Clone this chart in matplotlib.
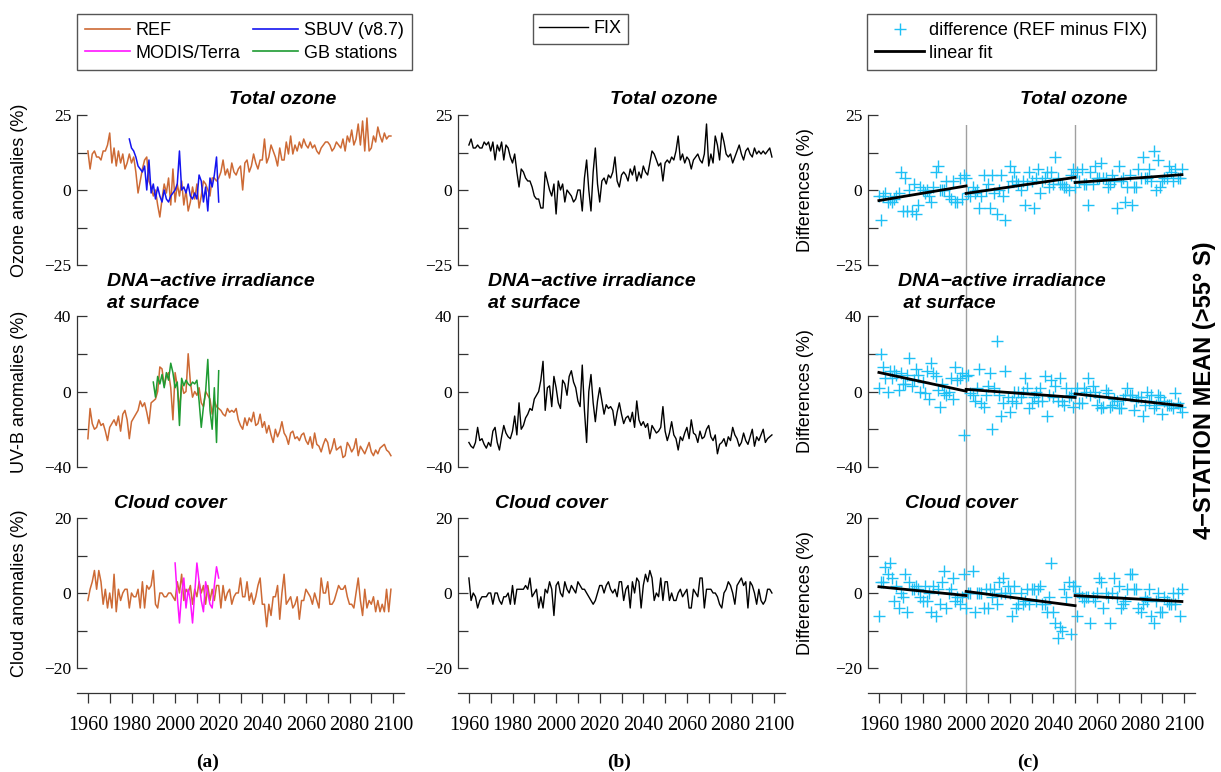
import numpy as np
import matplotlib
matplotlib.use("Agg")
import matplotlib.pyplot as plt
from matplotlib.ticker import MultipleLocator, FixedLocator
from matplotlib.lines import Line2D

# ---------------- data (annual values 1960-2099) ----------------
years = np.arange(1960, 2100)

ref_ozone = [13, 7, 12, 13, 11, 11, 10, 13, 13, 15,
             19, 9, 14, 8, 13, 9, 12, 7, 9, 12,
             9, 11, 6, -1, 3, 7, 10, 11, 3, 1,
             -2, 0, -5, -9, -3, 2, -1, 4, -5, 7,
             -4, 2, -2, 3, -5, 0, -7, -4, 1, -3,
             2, -6, -2, 3, 2, 0, -2, 4, 4, 3,
             4, 6, 10, 5, 7, 4, 9, 6, 5, 7,
             8, 0, 9, 10, 6, 8, 12, 9, 7, 10,
             10, 17, 9, 11, 15, 13, 11, 8, 14, 10,
             10, 16, 12, 18, 12, 15, 13, 16, 14, 17,
             15, 14, 16, 14, 15, 13, 12, 14, 15, 16,
             16, 15, 13, 14, 16, 15, 14, 17, 13, 18,
             16, 20, 15, 17, 22, 15, 23, 13, 24, 13,
             14, 18, 16, 21, 18, 16, 19, 17, 18, 18]

fix_ozone = [15, 17, 14, 14, 15, 14, 14, 16, 15, 16,
             13, 16, 10, 15, 13, 16, 10, 15, 14, 11,
             9, 12, 6, 1, 7, 6, 4, 3, 3, 1,
             -2, -3, -3, -6, -6, 6, 3, 0, -2, 2,
             -8, 3, 0, 2, -4, 0, -1, -2, -4, -3,
             0, 0, -7, 4, 10, 0, -7, 6, 14, 2,
             -4, 3, 4, 2, 5, 4, 6, 11, 3, 1,
             5, 6, 5, 3, 7, 5, 8, 3, 6, 4,
             8, 6, 5, 9, 13, 12, 10, 8, 9, 3,
             9, 10, 9, 11, 10, 13, 18, 10, 12, 9,
             11, 10, 7, 10, 11, 12, 10, 9, 12, 22,
             8, 12, 9, 18, 15, 10, 19, 16, 12, 11,
             12, 9, 11, 13, 15, 12, 10, 13, 14, 12,
             11, 14, 12, 13, 12, 13, 12, 13, 14, 11]

ref_uvb = [-25, -9, -17, -20, -19, -15, -18, -17, -21, -26,
           -19, -17, -15, -18, -13, -21, -12, -10, -15, -25,
           -16, -14, -12, -10, -5, -8, -6, -11, -17, -6,
           -5, -4, 0, 13, 12, 3, 8, 10, 2, -15,
           10, 3, -10, 4, -1, 0, 20, 5, -3, 0,
           -2, 2, -6, -8, 0, -2, -4, -12, -5, -8,
           -9, -10, -12, -13, -9, -11, -10, -11, -9, -15,
           -18, -20, -14, -18, -14, -16, -11, -18, -17, -12,
           -19, -16, -22, -18, -23, -27, -20, -24, -21, -16,
           -22, -24, -28, -22, -21, -25, -24, -26, -23, -22,
           -26, -28, -24, -30, -22, -28, -29, -32, -28, -25,
           -27, -33, -30, -25, -31, -30, -29, -35, -34, -27,
           -29, -32, -30, -25, -34, -29, -31, -33, -30, -27,
           -32, -34, -31, -33, -30, -29, -28, -31, -32, -34]

fix_uvb = [-27, -29, -30, -27, -19, -26, -25, -28, -30, -27,
           -29, -21, -19, -27, -31, -24, -18, -22, -24, -25,
           -21, -13, -23, -6, -20, -18, -14, -12, -9, -10,
           -4, -2, 0, 6, 16, -10, 2, 3, -8, 8,
           2, -6, -9, 6, 4, -2, 8, 11, 5, 2,
           -5, -8, 14, -10, -27, 0, 9, -6, -16, -5,
           2, -5, -12, -7, -9, -8, -10, -18, -11, -6,
           -12, -17, -14, -13, -16, -11, -19, -5, -15, -18,
           -16, -19, -17, -25, -18, -20, -22, -21, -19, -8,
           -21, -26, -22, -16, -23, -25, -31, -24, -26, -22,
           -19, -25, -15, -22, -23, -27, -21, -25, -24, -20,
           -18, -24, -26, -23, -33, -28, -27, -25, -29, -24,
           -26, -19, -23, -25, -29, -27, -22, -26, -28, -24,
           -20, -29, -24, -26, -23, -20, -27, -25, -24, -23]

ref_cloud = [-2, 1, 3, 6, 1, 6, 3, -3, 1, -4,
             0, -4, 5, -5, 1, -2, 0, 1, 1, -4,
             0, -1, -1, 1, -4, 3, -4, 2, 1, 2,
             6, -3, -4, 0, 0, -1, -1, 0, 0, -1,
             -2, 3, 0, 5, -2, 1, 0, 2, -3, 1,
             -1, 3, 0, 2, -3, 2, -2, 1, -2, 2,
             2, -4, 2, -2, 0, 1, -3, -1, 0, 0,
             4, -1, -1, 3, -2, 0, -3, -1, 2, 4,
             -3, -3, -9, -3, -6, -1, -1, 2, -7, 0,
             5, -3, -2, -1, -4, -3, -1, -7, -2, -2,
             1, 0, -1, -3, 0, -2, -4, 4, 0, 0,
             3, -3, -3, -2, 0, 2, 1, 1, 2, -1,
             -3, -3, -4, 0, 4, -2, -6, 1, -4, -2,
             -3, -1, -5, -2, -5, -3, -5, 1, -5, 1]

fix_cloud = [4, -2, 0, -1, -4, -2, -1, -1, -1, 0,
             0, -3, 0, 0, -2, -3, -1, -1, 0, -3,
             2, -3, 1, 1, 1, 1, 2, 1, 4, -1,
             0, 1, -4, -1, -4, 1, 0, 3, 1, -6,
             2, 3, 0, -1, 3, 1, 0, 2, 1, 0,
             3, 2, 1, 1, 0, -1, -2, -3, -2, 0,
             2, 2, 0, 2, 3, 1, 0, 1, -1, 3,
             3, -2, 1, 2, -4, 3, 0, 4, 3, -4,
             2, 5, 3, 6, 4, -2, 0, -1, 4, -2,
             3, 3, -2, 0, -2, -2, 0, 1, -1, 0,
             1, -4, -4, 1, 0, -1, 4, 4, -4, 1,
             1, 1, 0, 0, -1, -3, -4, 0, 1, 3,
             2, 0, -3, 2, 3, 4, 2, 3, -4, 3,
             2, 0, -3, 1, -2, -3, -2, 1, 1, 0]

sbuv_years = np.arange(1979, 2021)
sbuv_ozone = [17, 14, 13, 11, 8, 7, 6, 8, 0, 10,
              -1, 2, -3, 1, -2, -4, 0, -3, -4, -2,
              -1, 0, 2, 13, 0, 1, -1, 2, -2, -3,
              -1, -3, 5, 3, -4, 1, -7, 4, 1, 5,
              11, -4]

gb_years = np.arange(1990, 2021)
gb_uvb = [5, -3, 8, 4, 9, 2, 10, 6, 15, 10,
          2, 5, -18, 7, 3, 6, 4, 3, 5, 4,
          6, -5, -19, -8, 0, 17, -10, -20, 2, -27,
          11]

modis_years = np.arange(2000, 2021)
modis_cloud = [8, -1, -8, 0, 4, -4, 1, -2, -8, 0,
               8, 3, -2, -5, 3, 0, -3, -4, 2, 7,
               4]

ylabels = ["Ozone anomalies (%)", "UV-B anomalies (%)", "Cloud anomalies (%)"]
titles = ["Total ozone", "DNA\u2212active irradiance", "Cloud cover"]
ylims = [(-25, 25), (-40, 40), (-20, 20)]
breaks = [1960, 2000, 2050, 2100]

# ---------------- styling ----------------
C_REF = "#CD6A35"
C_SBUV = "#1414F0"
C_MODIS = "#FF14FF"
C_GB = "#1E9B32"
C_DIFF = "#1EC0F5"
C_SPINE = "#333333"
SANS = "Liberation Sans"
SERIF = "Liberation Serif"
plt.rcParams["font.family"] = SERIF

W, H = 1221, 772
fig = plt.figure(figsize=(W / 100, H / 100), dpi=100)


def fx(px):
    return px / W


def fy(py):
    return 1 - py / H


col_left = [77, 458, 868]
ax_w = 327
rows = [(115, 265), (316, 467), (518, 668)]
XLIM = (1955, 2105)

ref_series = [ref_ozone, ref_uvb, ref_cloud]
fix_series = [fix_ozone, fix_uvb, fix_cloud]

axes = {}
for c, L in enumerate(col_left):
    for r, (yt, yb) in enumerate(rows):
        ax = fig.add_axes([fx(L), fy(yb), ax_w / W, (yb - yt) / H])
        ax.set_facecolor("none")
        ax.set_zorder(2)
        ax.set_xlim(*XLIM)
        lo, hi = ylims[r]
        ax.set_ylim(lo, hi)
        for s in ("top", "right"):
            ax.spines[s].set_visible(False)
        ax.spines["left"].set_color(C_SPINE)
        ax.spines["left"].set_linewidth(0.9)
        ax.yaxis.set_major_locator(FixedLocator([lo, 0, hi]))
        ax.yaxis.set_minor_locator(FixedLocator([lo / 2, hi / 2]))
        ax.tick_params(axis="y", which="both", direction="in", length=7.5,
                       width=0.9, color=C_SPINE, labelsize=12.5, pad=4)
        if r == 2:
            ax.spines["bottom"].set_position(("outward", 18))
            ax.spines["bottom"].set_color(C_SPINE)
            ax.spines["bottom"].set_linewidth(0.9)
            ax.xaxis.set_major_locator(MultipleLocator(20))
            ax.xaxis.set_minor_locator(MultipleLocator(10))
            ax.tick_params(axis="x", which="both", direction="out", length=7.5,
                           width=0.9, color=C_SPINE, labelsize=14.5, pad=9)
            ax.tick_params(axis="x", which="minor", labelbottom=False)
        else:
            ax.spines["bottom"].set_visible(False)
            ax.set_xticks([])
        axes[(c, r)] = ax

# column (a)
a0, a1, a2 = axes[(0, 0)], axes[(0, 1)], axes[(0, 2)]
a0.plot(years, ref_ozone, color=C_REF, lw=1.1)
a0.plot(sbuv_years, sbuv_ozone, color=C_SBUV, lw=1.1)
a1.plot(years, ref_uvb, color=C_REF, lw=1.1)
a1.plot(gb_years, gb_uvb, color=C_GB, lw=1.1)
a2.plot(years, ref_cloud, color=C_REF, lw=1.1)
a2.plot(modis_years, modis_cloud, color=C_MODIS, lw=1.1)

# column (b)
for r in range(3):
    axes[(1, r)].plot(years, fix_series[r], color="black", lw=1.0)

# column (c)
ov = fig.add_axes([fx(868), fy(693), ax_w / W, (693 - 125) / H])
ov.set_xlim(*XLIM)
ov.set_ylim(0, 1)
ov.axis("off")
ov.set_zorder(1)
for b in breaks[1:3]:
    ov.axvline(b, color="#A0A0A0", lw=1.0)

yrs = years.astype(float)
for r in range(3):
    ax = axes[(2, r)]
    diff = np.array(ref_series[r], float) - np.array(fix_series[r], float)
    ax.plot(years, diff, ls="none", marker="+", ms=8, mew=1.0, color=C_DIFF)
    for s0, s1 in zip(breaks[:-1], breaks[1:]):
        m = (yrs >= s0) & (yrs < s1)
        k, b0 = np.polyfit(yrs[m], diff[m], 1)
        xe = np.array([s0, min(s1, 2099)], float)
        ax.plot(xe, k * xe + b0, color="black", lw=2.0)

# y labels
lab_x = [20, None, 805]
for c in (0, 2):
    for r, (yt, yb) in enumerate(rows):
        txt = ylabels[r] if c == 0 else "Differences (%)"
        fig.text(fx(lab_x[c]), fy((yt + yb) / 2), txt, rotation=90,
                 ha="center", va="center", family=SANS, fontsize=13)

# panel titles
tkw = dict(family=SANS, fontsize=14, fontweight="bold", fontstyle="italic")
for c, L in enumerate(col_left):
    fig.text(fx(L + 206), fy(100), titles[0], ha="center", va="center", **tkw)
    second = " at surface" if c == 2 else "at surface"
    fig.text(fx(L + 30), fy(282), titles[1], ha="left", va="center", **tkw)
    fig.text(fx(L + 30), fy(303), second, ha="left", va="center", **tkw)
    fig.text(fx(L + 93), fy(503), titles[2], ha="center", va="center", **tkw)

# column letters
for x, t in zip([208, 619, 1028], ["(a)", "(b)", "(c)"]):
    fig.text(fx(x), fy(762), t, ha="center", va="center", family=SERIF,
             fontsize=14, fontweight="bold")

# right side label
fig.text(fx(1205), fy(390), "4\u2212STATION MEAN (>55\u00b0 S)", rotation=90,
         ha="center", va="center", family=SANS, fontsize=17, fontweight="bold")

# legends
lkw = dict(loc="upper left", frameon=True, fancybox=False, framealpha=1,
           edgecolor="#555555", prop={"family": SANS, "size": 13},
           borderaxespad=0, handletextpad=0.3, labelspacing=0.3)
h_a = [Line2D([], [], color=C_REF, lw=1.2), Line2D([], [], color=C_MODIS, lw=1.2),
       Line2D([], [], color=C_SBUV, lw=1.2), Line2D([], [], color=C_GB, lw=1.2)]
la = fig.legend(h_a, ["REF", "MODIS/Terra", "SBUV (v8.7)", "GB stations"],
                bbox_to_anchor=(fx(77), fy(14)), ncol=2, handlelength=2.5,
                columnspacing=0.7, borderpad=0.45, **lkw)
lb = fig.legend([Line2D([], [], color="black", lw=1.0)], ["FIX"],
                bbox_to_anchor=(fx(533), fy(14)), handlelength=2.7,
                borderpad=0.35, **lkw)
h_c = [Line2D([], [], ls="none", marker="+", ms=8, mew=1.0, color=C_DIFF),
       Line2D([], [], color="black", lw=2.0)]
lc = fig.legend(h_c, ["difference (REF minus FIX)", "linear fit"],
                bbox_to_anchor=(fx(867), fy(14)), handlelength=2.7,
                borderpad=0.45, **lkw)
for lg in (la, lb, lc):
    lg.get_frame().set_linewidth(1.0)

fig.savefig("out.png", dpi=100)
